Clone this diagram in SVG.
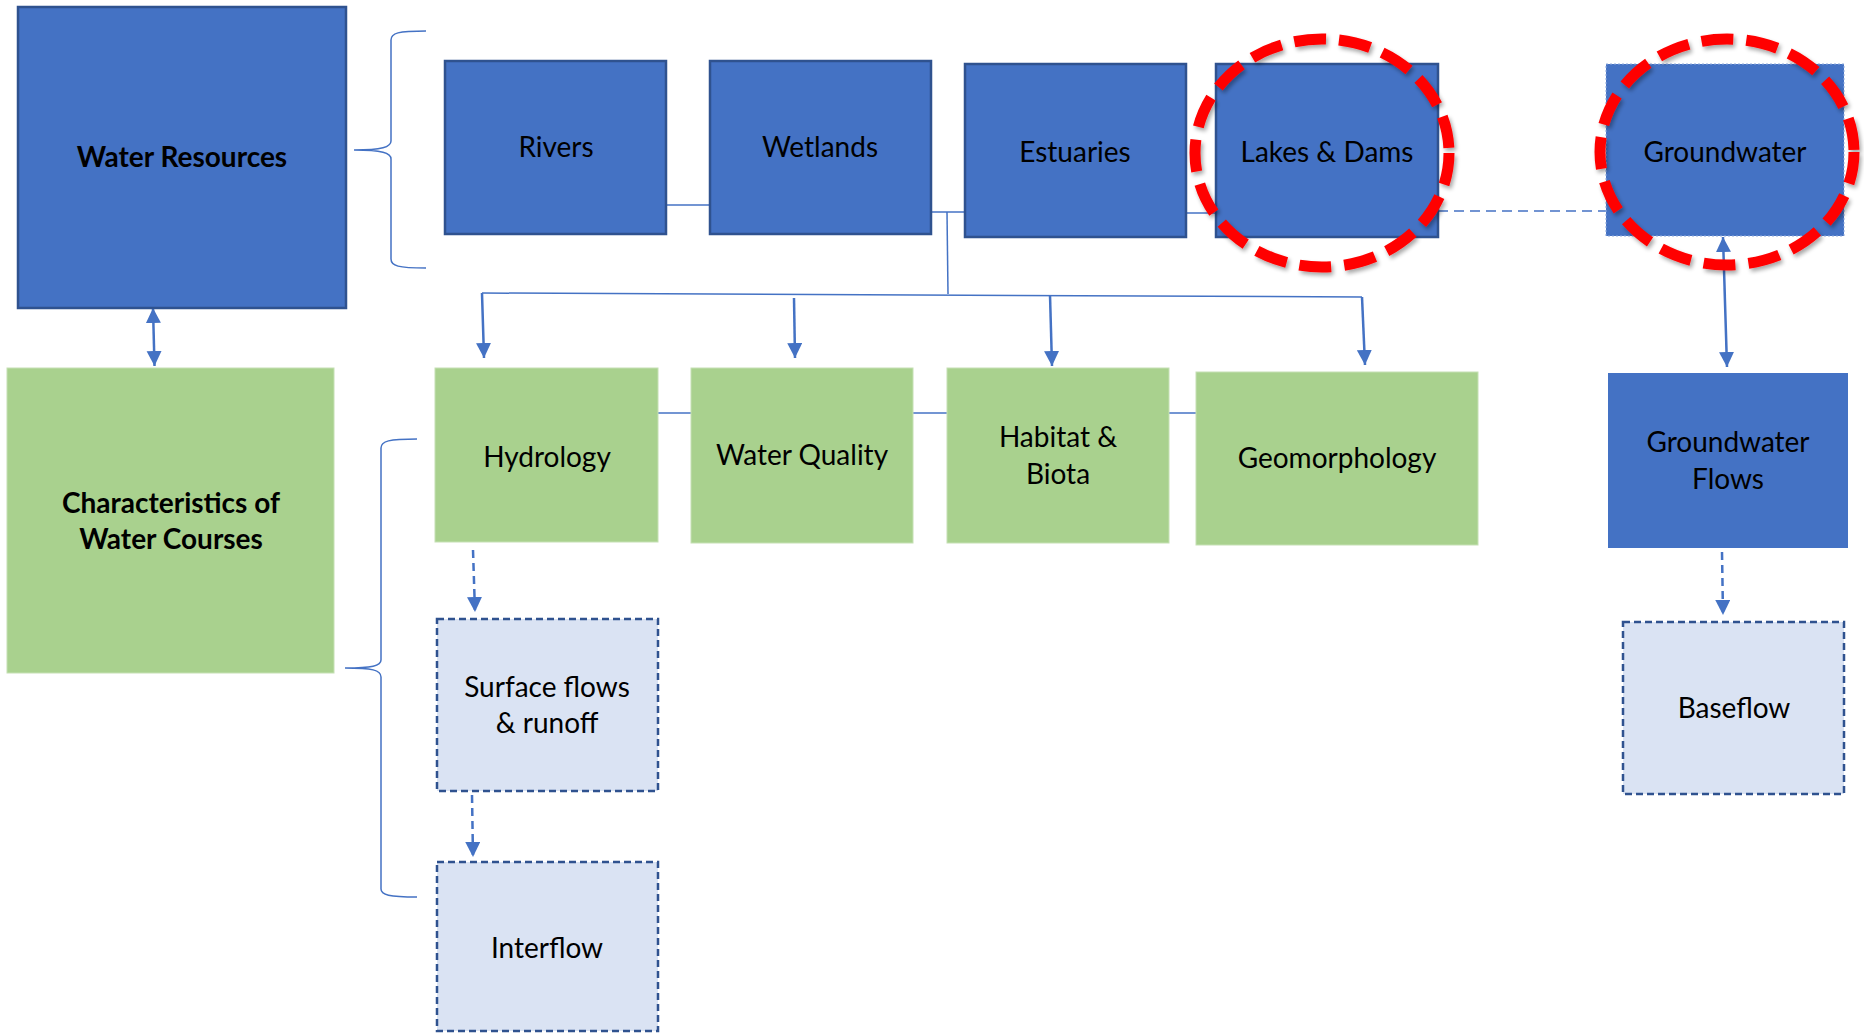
<svg xmlns="http://www.w3.org/2000/svg" width="1864" height="1033" viewBox="0 0 1864 1033">
<style>
.blue{fill:#4472C4;stroke:#2F528F;stroke-width:2.5}
.blue2{fill:#4472C4;stroke:none}
.green{fill:#A9D18E;stroke:#C5E0B4;stroke-width:1}
.light{fill:#DAE3F3;stroke:#2F528F;stroke-width:2.5;stroke-dasharray:7 4}
.t{font-family:Lato,"Open Sans","Noto Sans",sans-serif;font-size:28px;fill:#000;text-anchor:middle}
.b{font-weight:bold}
.ln{fill:none;stroke:#4472C4;stroke-width:1.5}
.ar{fill:none;stroke:#4472C4;stroke-width:2.5}
.da{fill:none;stroke:#4472C4;stroke-width:2.5;stroke-dasharray:8 5}
.ring{fill:none;stroke:#FF0000;stroke-width:11;stroke-dasharray:32 13;filter:url(#sh)}
</style>
<defs>
<marker id="ah" markerUnits="userSpaceOnUse" markerWidth="16" markerHeight="16" refX="15" refY="7.5" orient="auto-start-reverse" viewBox="0 0 16 16">
<path d="M0,0 L15,7.5 L0,15 Z" fill="#4472C4"/>
</marker>
<filter id="sh" x="-10%" y="-10%" width="125%" height="125%">
<feGaussianBlur in="SourceAlpha" stdDeviation="2"/>
<feOffset dx="2" dy="3" result="o"/>
<feComponentTransfer><feFuncA type="linear" slope="0.35"/></feComponentTransfer>
<feMerge><feMergeNode/><feMergeNode in="SourceGraphic"/></feMerge>
</filter>
</defs>
<rect width="1864" height="1033" fill="#fff"/>

<g id="connectors">
<path class="ln" d="M426,31 C398,31 391,33 391,40 L391,141 C391,147 382,150 354,150 C382,150 391,153 391,159 L391,259 C391,266 398,268 426,268"/>
<path class="ln" d="M417,439 C389,439 381,441 381,448 L381,660 C381,666 372,668 345,668 C372,668 381,670 381,677 L381,889 C381,895 389,897 417,897"/>
<line class="ln" x1="666" y1="205" x2="710" y2="205"/>
<line class="ln" x1="931" y1="212" x2="965" y2="212"/>
<line class="ln" x1="947" y1="212" x2="948" y2="294"/>
<line class="ln" x1="1186" y1="213" x2="1216" y2="213"/>
<line class="ln" x1="1438" y1="211" x2="1606" y2="211" stroke-dasharray="10 6"/>
<line class="ln" x1="482" y1="293" x2="1362" y2="297"/>
<line class="ln" x1="658" y1="413" x2="691" y2="413"/>
<line class="ln" x1="913" y1="413" x2="947" y2="413"/>
<line class="ln" x1="1163" y1="413" x2="1196" y2="413"/>
<line class="ar" x1="482" y1="293" x2="484" y2="358" marker-end="url(#ah)"/>
<line class="ar" x1="794" y1="298" x2="795" y2="358" marker-end="url(#ah)"/>
<line class="ar" x1="1050" y1="295" x2="1052" y2="366" marker-end="url(#ah)"/>
<line class="ar" x1="1362" y1="297" x2="1365" y2="365" marker-end="url(#ah)"/>
<line class="ar" x1="153" y1="308" x2="154.5" y2="366" marker-start="url(#ah)" marker-end="url(#ah)"/>
<line class="ar" x1="1723" y1="237" x2="1727" y2="367" marker-start="url(#ah)" marker-end="url(#ah)"/>
<line class="da" x1="473" y1="550" x2="475" y2="612" marker-end="url(#ah)"/>
<line class="da" x1="472" y1="795" x2="473" y2="857" marker-end="url(#ah)"/>
<line class="da" x1="1722" y1="552" x2="1723" y2="615" marker-end="url(#ah)"/>
</g>

<g id="water-resources"><rect class="blue" x="18" y="7" width="328" height="301"/><text class="t b" x="182" y="167">Water Resources</text></g>
<g id="rivers"><rect class="blue" x="445" y="61" width="221" height="173"/><text class="t" x="556" y="157">Rivers</text></g>
<g id="wetlands"><rect class="blue" x="710" y="61" width="221" height="173"/><text class="t" x="820" y="157">Wetlands</text></g>
<g id="estuaries"><rect class="blue" x="965" y="64" width="221" height="173"/><text class="t" x="1075" y="162">Estuaries</text></g>
<g id="lakes-dams"><rect class="blue" x="1216" y="64" width="222" height="173"/><text class="t" x="1327" y="162">Lakes &amp; Dams</text></g>
<g id="groundwater"><rect x="1606" y="64" width="238" height="172" fill="#4472C4" stroke="#8FAADC" stroke-width="1" stroke-dasharray="2 2"/><text class="t" x="1725" y="162">Groundwater</text></g>
<g id="characteristics"><rect class="green" x="7" y="368" width="327" height="305"/><text class="t b" x="171" y="513">Characteristics of</text><text class="t b" x="171" y="549">Water Courses</text></g>
<g id="hydrology"><rect class="green" x="435" y="368" width="223" height="174"/><text class="t" x="547" y="467">Hydrology</text></g>
<g id="water-quality"><rect class="green" x="691" y="368" width="222" height="175"/><text class="t" x="802" y="465">Water Quality</text></g>
<g id="habitat-biota"><rect class="green" x="947" y="368" width="222" height="175"/><text class="t" x="1058" y="447">Habitat &amp;</text><text class="t" x="1058" y="484">Biota</text></g>
<g id="geomorphology"><rect class="green" x="1196" y="372" width="282" height="173"/><text class="t" x="1337" y="468">Geomorphology</text></g>
<g id="groundwater-flows"><rect class="blue2" x="1608" y="373" width="240" height="175"/><text class="t" x="1728" y="452">Groundwater</text><text class="t" x="1728" y="489">Flows</text></g>
<g id="surface-flows"><rect class="light" x="437" y="619" width="221" height="172"/><text class="t" x="547" y="697">Surface flows</text><text class="t" x="547" y="733">&amp; runoff</text></g>
<g id="interflow"><rect class="light" x="437" y="862" width="221" height="169"/><text class="t" x="547" y="958">Interflow</text></g>
<g id="baseflow"><rect class="light" x="1623" y="622" width="221" height="172"/><text class="t" x="1734" y="718">Baseflow</text></g>

<g id="highlights">
<ellipse class="ring" cx="1322" cy="153" rx="127" ry="114"/>
<ellipse class="ring" cx="1727" cy="152" rx="127" ry="113"/>
</g>
</svg>
